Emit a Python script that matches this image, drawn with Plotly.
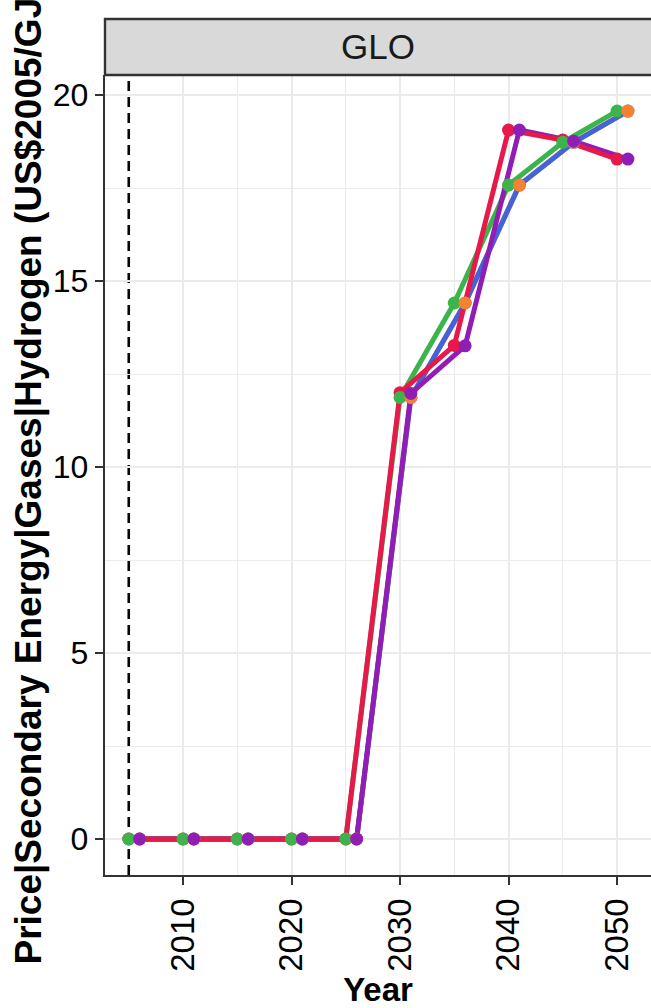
import plotly.graph_objects as go

# ---- data ----
years_base = [2005, 2010, 2015, 2020, 2025, 2030, 2035, 2040, 2045, 2050]
years_shift = [2006, 2011, 2016, 2021, 2026, 2031, 2036, 2041, 2046, 2051]

green_vals = [0, 0, 0, 0, 0, 11.87, 14.41, 17.58, 18.73, 19.57]
red_vals = [0, 0, 0, 0, 0, 12.00, 13.27, 19.06, 18.79, 18.28]
blue_vals = [0, 0, 0, 0, 0, 11.87, 14.41, 17.58, 18.73, 19.57]
orange_vals = [0, 0, 0, 0, 0, 11.87, 14.41, 17.58, 18.73, 19.57]
purple_vals = [0, 0, 0, 0, 0, 11.98, 13.26, 19.06, 18.76, 18.28]

x_ticks = [2010, 2020, 2030, 2040, 2050]
x_minor = [2015, 2025, 2035, 2045]
y_ticks = [0, 5, 10, 15, 20]
y_minor = [2.5, 7.5, 12.5, 17.5]
ref_year = 2005
facet_label = "GLO"
x_title = "Year"
y_title = "Price|Secondary Energy|Gases|Hydrogen (US$2005/GJ)"

C = {
    "blue": "#4363d8",
    "orange": "#f58231",
    "green": "#3cb44b",
    "red": "#e6194b",
    "purple": "#911eb4",
}

series = {
    "blue": (years_shift, blue_vals),
    "orange": (years_shift, orange_vals),
    "green": (years_base, green_vals),
    "red": (years_base, red_vals),
    "purple": (years_shift, purple_vals),
}

line_order = ["orange", "blue", "green", "purple", "red"]
point_order = ["blue", "red", "green", "orange", "purple"]

fig = go.Figure()
for k in line_order:
    xs, ys = series[k]
    fig.add_trace(go.Scatter(x=xs, y=ys, mode="lines",
                             line=dict(color=C[k], width=5),
                             showlegend=False, hoverinfo="skip"))
for k in point_order:
    xs, ys = series[k]
    fig.add_trace(go.Scatter(x=xs, y=ys, mode="markers",
                             marker=dict(color=C[k], size=13, line=dict(width=0)),
                             showlegend=False))

W, H = 651, 1008
L, R, T, B = 105, 0, 75, 1008 - 875
ph = H - T - B

fig.add_shape(type="line", xref="x", yref="paper", x0=ref_year, x1=ref_year,
              y0=0, y1=1, line=dict(color="black", width=2.6, dash="10px,6px"),
              layer="between")

# strip
strip_top = 1 + (75 - 19) / ph
fig.add_shape(type="rect", xref="paper", yref="paper", x0=0, x1=1.05,
              y0=1, y1=strip_top, fillcolor="#D9D9D9",
              line=dict(color="#333333", width=2.4), layer="above")
fig.add_annotation(text=facet_label, xref="paper", yref="paper",
                   x=0.5, y=(1 + strip_top) / 2, showarrow=False,
                   font=dict(family="Liberation Sans, Arial", size=35, color="#1A1A1A"),
                   xanchor="center", yanchor="middle")

grid_col = "#EBEBEB"
fig.update_xaxes(
    range=[2002.81, 2053.13], tickvals=x_ticks, ticktext=[str(v) for v in x_ticks],
    tickangle=-90, ticks="outside", ticklen=8, tickwidth=2.4, tickcolor="#333333",
    tickfont=dict(family="Liberation Sans, Arial", size=33, color="black"),
    showgrid=True, gridcolor=grid_col, gridwidth=2.2,
    minor=dict(tickvals=x_minor, showgrid=True,
               gridcolor=grid_col, gridwidth=1.4, ticks=""),
    showline=True, linecolor="#333333", linewidth=2.4, mirror=False,
    zeroline=False,
    title=dict(text="<b>" + x_title + "</b>",
               font=dict(family="Liberation Sans, Arial", size=33, color="black"),
               standoff=2),
)
fig.update_yaxes(
    range=[-0.968, 20.54], tickvals=y_ticks, ticktext=[str(v) for v in y_ticks],
    ticks="outside", ticklen=8, tickwidth=2.4, tickcolor="#333333",
    tickfont=dict(family="Liberation Sans, Arial", size=32, color="black"),
    showgrid=True, gridcolor=grid_col, gridwidth=2.2,
    minor=dict(tickvals=y_minor, showgrid=True,
               gridcolor=grid_col, gridwidth=1.4, ticks=""),
    showline=True, linecolor="#333333", linewidth=2.4, mirror=False,
    zeroline=False,
    title=dict(text="<b>" + y_title + "</b>",
               font=dict(family="Liberation Sans, Arial", size=37, color="black"),
               standoff=0),
)

fig.update_layout(
    width=W, height=H,
    margin=dict(l=L, r=R, t=T, b=B, autoexpand=False),
    plot_bgcolor="white", paper_bgcolor="white",
    showlegend=False,
)

fig.write_html(
    "out.html",
    config={"displayModeBar": False},
    post_script="document.body.style.margin='0';document.body.style.overflow='hidden';",
)
